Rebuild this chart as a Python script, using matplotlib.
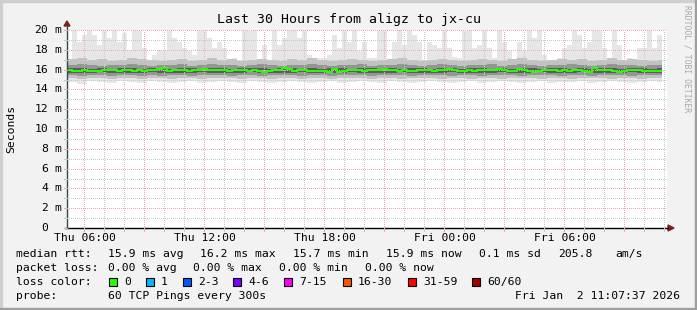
"""
SmokePing style latency chart: last 30 hours from aligz to jx-cu
"""

from datetime import datetime
import numpy as np
import matplotlib
import matplotlib.pyplot as plt
from matplotlib.lines import Line2D
from matplotlib.patches import Rectangle, Polygon
matplotlib.use("AGG")

W, H = 697, 310

# median rtt in ms, one value per 15 minutes
median = [15.95, 15.90, 15.88, 15.92, 15.88, 15.82, 15.85, 15.92, 15.95, 15.92,
          15.90, 15.94, 15.92, 15.90, 15.93, 15.90, 15.92, 15.95, 16.05, 16.12,
          15.85, 15.95, 15.92, 15.95, 15.90, 15.92, 15.98, 16.10, 15.98, 15.92,
          15.95, 15.92, 15.88, 15.92, 15.95, 15.92, 15.90, 15.92, 15.88, 15.75,
          15.85, 15.92, 15.95, 16.12, 16.05, 15.85, 15.95, 15.92, 15.90, 15.88,
          15.85, 15.88, 15.80, 16.08, 15.78, 15.90, 15.92, 15.95, 15.92, 15.90,
          15.92, 15.95, 15.92, 16.08, 15.95, 15.92, 15.90, 15.92, 15.88, 15.90,
          15.92, 15.95, 15.92, 15.90, 15.92, 15.98, 16.05, 15.92, 15.90, 15.88,
          15.92, 15.90, 15.92, 15.95, 15.92, 15.95, 16.08, 15.95, 15.90, 15.82,
          16.08, 15.92, 15.85, 15.75, 15.90, 15.92, 15.95, 15.92, 15.90, 15.92,
          15.90, 15.92, 15.95, 15.85, 15.80, 16.20, 16.00, 15.95, 15.92, 15.90,
          15.80, 15.90, 15.92, 15.95, 15.92, 15.90, 15.82, 15.90, 15.88]

# slowest ping per 15 minutes
ping_max = [17.0, 20.5, 18.8, 19.5, 20.5, 19.5, 18.5, 20.5, 19.2, 20.5,
            18.8, 19.7, 18.0, 20.1, 19.9, 18.2, 17.0, 17.5, 18.0, 17.9,
            19.9, 19.2, 18.8, 18.2, 17.9, 17.5, 19.9, 20.5, 19.2, 18.2,
            18.8, 18.2, 17.0, 17.2, 17.0, 20.5, 19.9, 20.5, 17.0, 18.5,
            17.0, 20.5, 18.5, 19.2, 20.5, 20.5, 19.2, 20.5, 17.5, 17.2,
            17.2, 17.2, 17.5, 19.5, 18.2, 20.5, 18.8, 20.5, 17.9, 18.8,
            17.2, 17.2, 19.9, 20.5, 17.0, 18.8, 20.5, 18.5, 20.5, 19.5,
            18.8, 17.0, 18.8, 18.5, 18.2, 20.5, 18.2, 17.3, 17.2, 19.9,
            20.5, 18.2, 18.5, 20.5, 18.2, 17.2, 20.5, 18.8, 17.9, 17.0,
            18.8, 17.9, 20.5, 19.2, 20.5, 17.5, 17.0, 17.0, 17.2, 18.2,
            18.5, 20.5, 19.5, 18.2, 18.8, 20.5, 19.9, 18.2, 17.0, 20.5,
            18.5, 17.0, 17.2, 17.0, 18.2, 18.2, 20.5, 18.2, 19.5]

# smoke percentiles, one value per 30 minutes
p90 = [17.1, 17.2, 17.0, 17.1, 16.9, 17.0, 17.2, 17.1, 17.0, 16.9,
       17.0, 17.1, 16.9, 17.0, 17.2, 17.0, 17.1, 16.9, 17.0, 17.1,
       17.0, 16.9, 17.1, 17.0, 17.2, 17.0, 16.9, 17.0, 17.1, 17.0,
       16.9, 17.0, 17.1, 17.2, 17.0, 16.9, 17.0, 17.1, 17.0, 16.9,
       17.0, 17.1, 17.0, 16.9, 17.1, 17.2, 17.0, 16.9, 17.0, 17.1,
       17.0, 17.1, 16.9, 17.0, 17.2, 17.0, 17.1, 17.0, 16.9, 17.0]
p75 = [16.5, 16.6, 16.5, 16.4, 16.5, 16.5, 16.6, 16.5, 16.4, 16.5,
       16.5, 16.6, 16.4, 16.5, 16.6, 16.5, 16.5, 16.4, 16.5, 16.6,
       16.5, 16.4, 16.5, 16.5, 16.6, 16.5, 16.4, 16.5, 16.5, 16.6,
       16.4, 16.5, 16.5, 16.6, 16.5, 16.4, 16.5, 16.6, 16.5, 16.4,
       16.5, 16.5, 16.6, 16.4, 16.5, 16.6, 16.5, 16.4, 16.5, 16.5,
       16.6, 16.5, 16.4, 16.5, 16.6, 16.5, 16.5, 16.4, 16.5, 16.5]
p60 = [16.15, 16.2, 16.1, 16.15, 16.1, 16.2, 16.15, 16.1, 16.2, 16.15,
       16.1, 16.15, 16.2, 16.1, 16.15, 16.2, 16.1, 16.15, 16.2, 16.15,
       16.1, 16.15, 16.2, 16.1, 16.15, 16.1, 16.2, 16.15, 16.1, 16.15,
       16.2, 16.1, 16.15, 16.1, 16.2, 16.15, 16.1, 16.15, 16.2, 16.1,
       16.15, 16.2, 16.1, 16.15, 16.1, 16.2, 16.15, 16.1, 16.2, 16.15,
       16.1, 16.15, 16.1, 16.2, 16.15, 16.1, 16.2, 16.15, 16.1, 16.15]
p40 = [15.7, 15.65, 15.7, 15.75, 15.7, 15.65, 15.7, 15.7, 15.75, 15.65,
       15.7, 15.7, 15.65, 15.75, 15.7, 15.7, 15.65, 15.7, 15.75, 15.7,
       15.65, 15.7, 15.7, 15.75, 15.65, 15.7, 15.7, 15.65, 15.75, 15.7,
       15.7, 15.65, 15.7, 15.75, 15.7, 15.65, 15.7, 15.7, 15.75, 15.7,
       15.65, 15.7, 15.7, 15.75, 15.65, 15.7, 15.7, 15.75, 15.7, 15.65,
       15.7, 15.75, 15.7, 15.65, 15.7, 15.7, 15.75, 15.7, 15.65, 15.7]
p25 = [15.45, 15.4, 15.5, 15.45, 15.4, 15.45, 15.5, 15.4, 15.45, 15.4,
       15.5, 15.45, 15.4, 15.45, 15.5, 15.45, 15.4, 15.45, 15.5, 15.4,
       15.45, 15.5, 15.45, 15.4, 15.45, 15.5, 15.4, 15.45, 15.45, 15.5,
       15.4, 15.45, 15.5, 15.45, 15.4, 15.45, 15.5, 15.45, 15.4, 15.45,
       15.5, 15.4, 15.45, 15.45, 15.5, 15.4, 15.45, 15.5, 15.45, 15.4,
       15.45, 15.5, 15.4, 15.45, 15.45, 15.5, 15.4, 15.45, 15.5, 15.45]
p10 = [15.15, 15.1, 15.2, 15.15, 15.1, 15.2, 15.15, 15.05, 15.15, 15.2,
       15.1, 15.15, 15.2, 15.1, 15.15, 15.2, 15.15, 15.1, 15.2, 15.15,
       15.1, 15.15, 15.2, 15.1, 15.15, 15.2, 15.1, 15.15, 15.2, 15.15,
       15.1, 15.2, 15.15, 15.1, 15.15, 15.2, 15.15, 15.1, 15.2, 15.15,
       15.1, 15.15, 15.2, 15.1, 15.15, 15.2, 15.15, 15.1, 15.15, 15.2,
       15.1, 15.15, 15.2, 15.15, 15.1, 15.15, 15.2, 15.1, 15.15, 15.15]
ping_min = [14.7, 14.5, 14.8, 14.7, 14.6, 14.8, 14.7, 14.6, 14.8, 14.7,
            14.6, 14.7, 14.8, 14.6, 14.7, 14.8, 14.7, 14.6, 14.8, 14.7,
            14.6, 14.7, 14.8, 14.7, 14.6, 14.7, 14.8, 14.6, 14.7, 14.8,
            14.7, 14.6, 14.8, 14.7, 14.6, 14.7, 14.8, 14.7, 14.6, 14.7,
            14.8, 14.6, 14.7, 14.8, 14.7, 14.6, 14.7, 14.8, 14.6, 14.7,
            14.7, 14.8, 14.6, 14.7, 14.8, 14.7, 14.6, 14.7, 14.8, 14.7]

y_labels = [0, 2, 4, 6, 8, 10, 12, 14, 16, 18, 20]
x_labels = ['Thu 06:00', 'Thu 12:00', 'Thu 18:00', 'Fri 00:00', 'Fri 06:00']

legend_rtt = [('median rtt:', 16), ('15.9 ms avg', 108), ('16.2 ms max', 200),
              ('15.7 ms min', 293), ('15.9 ms now', 386), ('0.1 ms sd', 479),
              ('205.8', 558), ('am/s', 615)]
legend_loss = [('packet loss:', 16), ('0.00 % avg', 108), ('0.00 % max', 193),
               ('0.00 % min', 279), ('0.00 % now', 365)]
loss_labels = ['0', '1', '2-3', '4-6', '7-15', '16-30', '31-59', '60/60']
loss_colors = ['#26ff00', '#00b8ff', '#0059ff', '#7e00ff', '#ff00ff',
               '#ff5500', '#ff0000', '#a10000']
loss_box_x = [109, 146, 183, 233, 284, 343, 408, 472]

start = datetime(2026, 1, 1, 5, 7, 37)
end = datetime(2026, 1, 2, 11, 7, 37)
span = (end - start).total_seconds() / 3600.0

MONO = 'DejaVu Sans Mono'
FS = 8.2
BACK = '#f2f2f2'
GRID = '#c9c9c9'
MGRID = '#eaaeae'
AXIS = '#2c4d43'
ARROW = '#7f1f1f'


def fx(x):
    return x / W


def fy(y):
    return 1 - y / H


fig = plt.figure(figsize=(W / 100, H / 100), dpi=100, facecolor=BACK)

# plot area: x 67..667, y 30..228 px
ax = fig.add_axes([fx(67), fy(228), 600 / W, 198 / H])
ax.set_facecolor('white')
ax.set_xlim(0, span)
ax.set_ylim(0, 20)
for s in ax.spines.values():
    s.set_visible(False)
ax.set_xticks([])
ax.set_yticks([])

# smoke layers
e15 = np.arange(len(median) + 1) * 0.25
e30 = np.minimum(np.arange(len(p90) + 1) * 0.5, e15[-1])
ax.stairs(ping_max, e15, baseline=np.repeat(ping_min, 2)[:len(ping_max)],
          fill=True, color='#e6e6e6', zorder=1)
ax.stairs(p90, e30, baseline=p10, fill=True, color='#c2c2c2', zorder=1.1)
ax.stairs(p75, e30, baseline=p25, fill=True, color='#959595', zorder=1.2)
ax.stairs(p60, e30, baseline=p40, fill=True, color='#5c5c5c', zorder=1.3)

# grid
def hours(dt):
    return (dt - start).total_seconds() / 3600.0

first = hours(datetime(2026, 1, 1, 6, 0, 0))
for k in range(30):
    h = first + k
    if h > span:
        break
    major = (k % 3 == 0)
    ax.axvline(h, color=MGRID if major else GRID, lw=0.72,
               ls=(0, (1, 2)), antialiased=False, zorder=2)
for v in range(1, 21):
    ax.axhline(v, color=MGRID if v % 2 == 0 else GRID, lw=0.72,
               ls=(0, (1, 2)), antialiased=False, zorder=2)

# median line
ax.stairs(median, e15, color='#26ff00', lw=1.4, zorder=3, baseline=None)

# axes with arrows
fig.add_artist(Line2D([fx(65), fx(668)], [fy(228), fy(228)], color='black',
                      lw=1.0, transform=fig.transFigure))
fig.add_artist(Line2D([fx(67), fx(67)], [fy(228), fy(26)], color=AXIS,
                      lw=1.0, transform=fig.transFigure))
fig.add_artist(Polygon([[fx(64), fy(26)], [fx(70), fy(26)], [fx(67), fy(21)]],
                       closed=True, color=ARROW, transform=fig.transFigure))
fig.add_artist(Polygon([[fx(668), fy(225)], [fx(668), fy(231)], [fx(674), fy(228)]],
                       closed=True, color=ARROW, transform=fig.transFigure))

# tick marks
for v in range(0, 21):
    y = 228 - v * 9.9
    fig.add_artist(Line2D([fx(64), fx(67)], [fy(y), fy(y)],
                          color=MGRID if v % 2 == 0 else GRID, lw=0.8,
                          transform=fig.transFigure))
for k in range(30):
    x = 67 + (first + k) * 20
    fig.add_artist(Line2D([fx(x), fx(x)], [fy(228), fy(231)],
                          color=MGRID if k % 3 == 0 else GRID, lw=0.8,
                          transform=fig.transFigure))

# y labels
for v in y_labels:
    y = 228 - v * 9.9
    fig.text(fx(48), fy(y), str(v), ha='right', va='center',
             family=MONO, fontsize=FS)
    if v:
        fig.text(fx(54), fy(y), 'm', ha='left', va='center',
                 family=MONO, fontsize=FS)

# x labels
for k, lab in enumerate(x_labels):
    x = 67 + (first + 6 * k) * 20
    fig.text(fx(x), fy(238), lab, ha='center', va='center',
             family=MONO, fontsize=FS)

fig.text(fx(349), fy(19), 'Last 30 Hours from aligz to jx-cu', ha='center',
         va='center', family=MONO, fontsize=9.5)
fig.text(fx(11), fy(129), 'Seconds', rotation=90, ha='center', va='center',
         family=MONO, fontsize=FS)
fig.text(fx(687), fy(5), 'RRDTOOL / TOBI OETIKER', rotation=270, ha='center',
         va='top', family=MONO, fontsize=5.8, color='#a8a8a8')

# legend
for txt, x in legend_rtt:
    fig.text(fx(x), fy(254), txt, ha='left', va='center', family=MONO, fontsize=FS)
for txt, x in legend_loss:
    fig.text(fx(x), fy(268), txt, ha='left', va='center', family=MONO, fontsize=FS)
fig.text(fx(16), fy(282), 'loss color:', ha='left', va='center',
         family=MONO, fontsize=FS)
for lab, col, x in zip(loss_labels, loss_colors, loss_box_x):
    fig.add_artist(Rectangle((fx(x), fy(286)), 8 / W, 8 / H, facecolor=col,
                             edgecolor='black', lw=0.8,
                             transform=fig.transFigure))
    fig.text(fx(x + 15), fy(282), lab, ha='left', va='center',
             family=MONO, fontsize=FS)
fig.text(fx(16), fy(296), 'probe:', ha='left', va='center',
         family=MONO, fontsize=FS)
fig.text(fx(108), fy(296), '60 TCP Pings every 300s', ha='left', va='center',
         family=MONO, fontsize=FS)
fig.text(fx(680), fy(296), 'Fri Jan  2 11:07:37 2026', ha='right',
         va='center', family=MONO, fontsize=FS)

# frame shading
fig.add_artist(Rectangle((0, fy(2)), 1, 2 / H, color='#cfcfcf',
                         transform=fig.transFigure))
fig.add_artist(Rectangle((0, 0), 2 / W, 1, color='#cfcfcf',
                         transform=fig.transFigure))
fig.add_artist(Rectangle((0, 0), 1, 2 / H, color='#9e9e9e',
                         transform=fig.transFigure))
fig.add_artist(Rectangle((fx(695), 0), 2 / W, 1, color='#9e9e9e',
                         transform=fig.transFigure))

fig.savefig('out.png', dpi=100, facecolor=BACK)
